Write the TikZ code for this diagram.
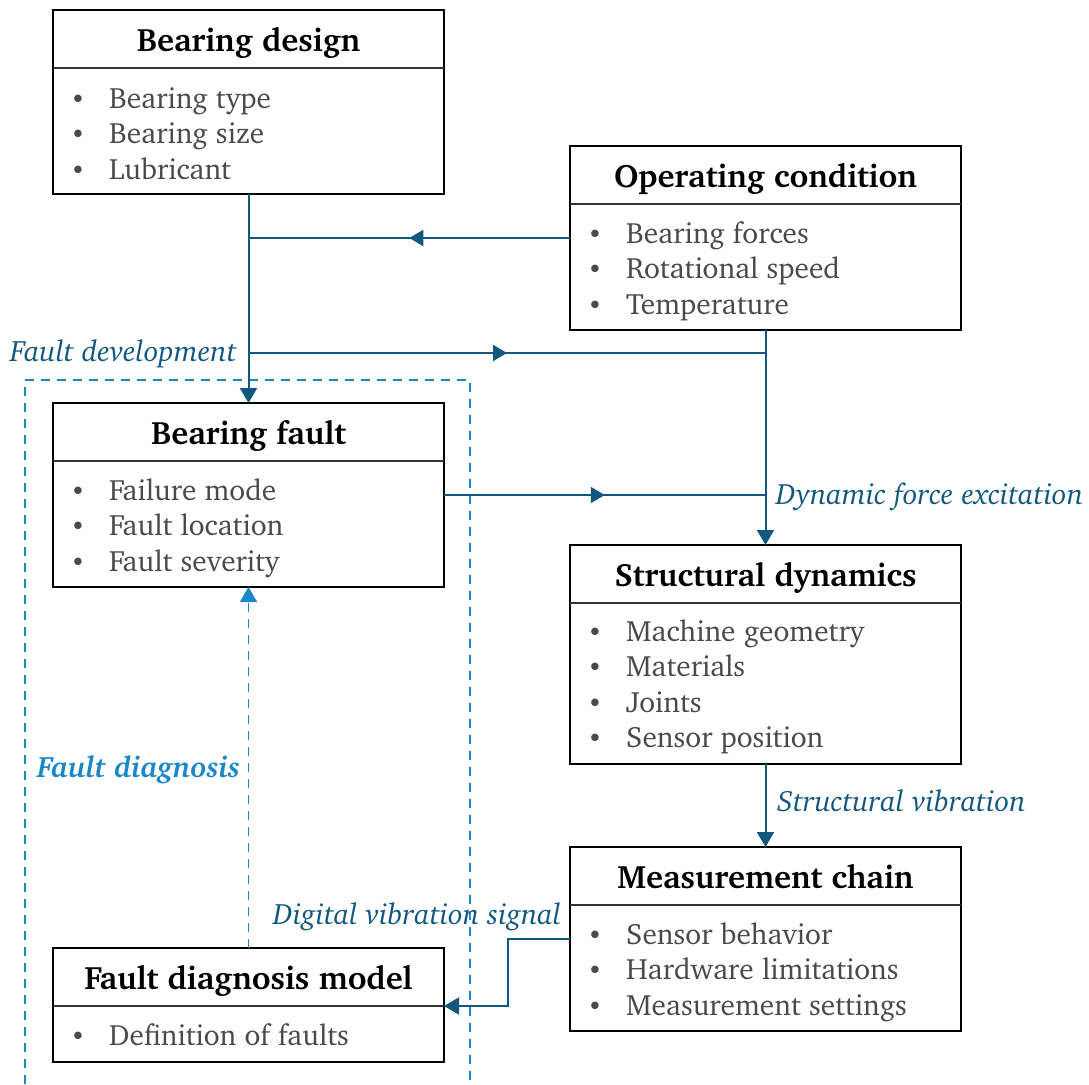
\documentclass[tikz,border=0pt]{standalone}
\usepackage[T1]{fontenc}
\usepackage{charter}
\usetikzlibrary{arrows.meta,decorations.markings}

\definecolor{flow}{HTML}{12587E}
\definecolor{diag}{HTML}{1B86C8}
\definecolor{itemgray}{HTML}{4A4A4A}

\tikzset{
  box/.style={draw=black, line width=2.8pt, minimum width=391pt, inner sep=0pt, outer sep=0pt},
  head/.style={font=\fontsize{32.4}{38}\selectfont\bfseries, anchor=base, inner sep=0pt},
  entry/.style={font=\fontsize{29.4}{35}\selectfont, text=itemgray, anchor=base west, inner sep=0pt},
  bul/.style={font=\fontsize{26}{31}\selectfont, text=itemgray, anchor=base, inner sep=0pt},
  sep/.style={line width=1.2pt, draw=black!80},
  flowline/.style={draw=flow, line width=2pt},
  tip/.style={-{Triangle[length=15pt,width=17pt]}},
  midtip/.style={postaction=decorate, decoration={markings,
      mark=at position 0.5 with {\arrow[flow]{Triangle[length=14pt,width=16pt]}}}},
  lab/.style={font=\fontsize{29.5}{35}\selectfont\itshape, text=flow, anchor=base west, inner sep=0pt},
  region/.style={draw=diag, line width=1.6pt, dash pattern=on 9pt off 7pt},
}

% block: name, left x, top y, bottom y, divider y, title
\newcommand\blockbox[6]{%
  \pgfmathsetmacro\bcx{#2+195.5}%
  \pgfmathsetmacro\bcy{(#3+#4)/2}%
  \pgfmathsetmacro\bh{#4-#3}%
  \node[box, minimum height=\bh] (#1) at (\bcx,\bcy) {};
  \draw[sep] (#2,#5) -- ({#2+391},#5);
  \node[head] (#1-t) at (\bcx,{#3+41.5}) {#6};
}
% entries: name, left x, first baseline, list
\newcommand\blockitems[4]{%
  \foreach \t [count=\i] in {#4} {
    \node[bul] (#1-b\i) at ({#2+25},{#3+35.6*(\i-1)}) {\textbullet};
    \node[entry] (#1-\i) at ({#2+56},{#3+35.6*(\i-1)}) {\t};
  }%
}

\begin{document}
\begin{tikzpicture}[x=1pt,y=-1pt]
  \useasboundingbox (0,0) rectangle (1089,1084);

  % fault-diagnosis region
  \draw[region] (25,1084) -- (25,380) -- (470,380) -- (470,1084);

  % blocks
  \blockbox{bd}{53}{10}{194}{68}{Bearing design}
  \blockitems{bd}{53}{108}{Bearing type, Bearing size, Lubricant}

  \blockbox{oc}{570}{146}{330}{204}{Operating condition}
  \blockitems{oc}{570}{243}{Bearing forces, Rotational speed, Temperature}

  \blockbox{bf}{53}{403}{587}{461}{Bearing fault}
  \blockitems{bf}{53}{500}{Failure mode, Fault location, Fault severity}

  \blockbox{sd}{570}{545}{764}{603}{Structural dynamics}
  \blockitems{sd}{570}{641}{Machine geometry, Materials, Joints, Sensor position}

  \blockbox{mc}{570}{847}{1031}{905}{Measurement chain}
  \blockitems{mc}{570}{944}{Sensor behavior, Hardware limitations, Measurement settings}

  \blockbox{fd}{53}{948}{1062}{1006}{Fault diagnosis model}
  \blockitems{fd}{53}{1045}{Definition of faults}

  % junction points
  \coordinate (j1) at (bd.south |- 0,353);
  \coordinate (j2) at (oc.south |- j1);
  \coordinate (j3) at (oc.south |- bf.east);
  \coordinate (k1) at (508,939);
  \coordinate (k2) at (508,1006);

  % connectors
  \draw[flowline, tip] (bd.south) -- (bf.north);
  \draw[flowline, midtip] (oc.west) -- (bd.south |- oc.west);
  \draw[flowline, midtip] (j1) -- (j2);
  \draw[flowline, tip] (oc.south) -- (sd.north);
  \draw[flowline, midtip] (bf.east) -- (j3);
  \draw[flowline, tip] (sd.south) -- (mc.north);
  \draw[flowline, tip] (mc.west |- k1) -- (k1) -- (k2) -- (fd.east |- k2);
  \draw[draw=diag, line width=1.6pt, dash pattern=on 9pt off 7pt,
        -{Triangle[length=15pt,width=17pt]}] (fd.north) -- (bf.south);

  % labels
  \node[lab] (l1) at (10,361) {Fault development};
  \node[lab] (l2) at (776,504) {Dynamic force excitation};
  \node[lab] (l3) at (777,811) {Structural vibration};
  \node[lab] (l4) at (273,924) {Digital vibration signal};
  \node[lab, font=\fontsize{29.5}{35}\selectfont\bfseries\itshape, text=diag] (l5) at (37,777) {Fault diagnosis};
\end{tikzpicture}
\end{document}
